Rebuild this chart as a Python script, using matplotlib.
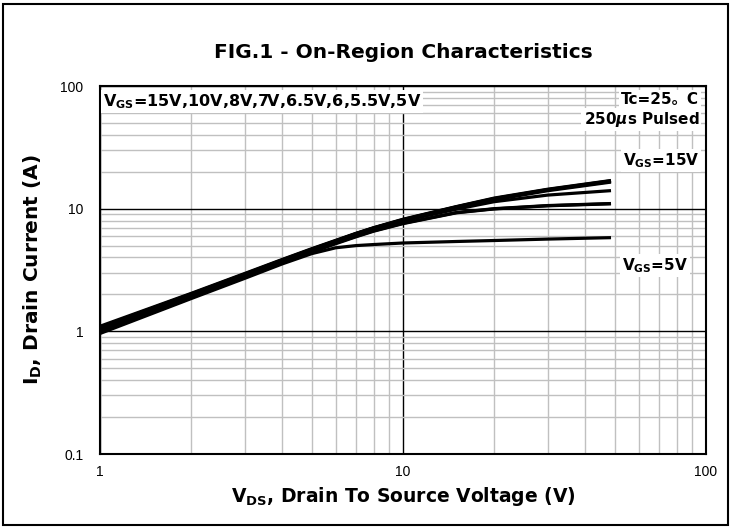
import numpy as np
import matplotlib.pyplot as plt
from matplotlib.ticker import LogLocator, FixedLocator, NullFormatter
from matplotlib.patches import Rectangle

plt.rcParams['font.family'] = ['Liberation Sans', 'DejaVu Sans']
plt.rcParams['mathtext.fontset'] = 'custom'
plt.rcParams['mathtext.rm'] = 'DejaVu Sans'
plt.rcParams['mathtext.bf'] = 'DejaVu Sans:bold'
plt.rcParams['mathtext.it'] = 'DejaVu Sans:italic:bold'

### Data
vds = [1, 2, 3, 4, 5, 6, 7, 8, 10, 15, 20, 30, 48]
id_15v = [1.1, 2.04, 2.96, 3.86, 4.72, 5.52, 6.3, 7.0, 8.2, 10.4, 12.2, 14.4, 16.9]
id_10v = [1.08, 2.02, 2.93, 3.83, 4.68, 5.48, 6.27, 6.97, 8.15, 10.35, 12.1, 14.3, 16.8]
id_8v = [1.06, 2.0, 2.9, 3.8, 4.65, 5.45, 6.25, 6.95, 8.1, 10.3, 12.0, 14.2, 16.6]
id_7v = [1.04, 1.97, 2.88, 3.77, 4.62, 5.42, 6.2, 6.9, 8.05, 10.2, 11.8, 14.0, 16.4]
id_6v5 = [1.02, 1.94, 2.84, 3.72, 4.57, 5.36, 6.12, 6.82, 7.95, 9.9, 11.4, 12.9, 14.0]
id_6v = [1.0, 1.91, 2.8, 3.66, 4.48, 5.25, 5.95, 6.6, 7.6, 9.3, 10.0, 10.6, 11.0]
id_5v5 = [0.98, 1.88, 2.76, 3.62, 4.42, 5.18, 5.9, 6.55, 7.55, 9.25, 9.95, 10.55, 10.95]
id_5v = [0.96, 1.85, 2.7, 3.55, 4.3, 4.8, 5.0, 5.1, 5.25, 5.4, 5.5, 5.65, 5.8]
curves = [id_15v, id_10v, id_8v, id_7v, id_6v5, id_6v, id_5v5, id_5v]

fig = plt.figure(figsize=(7.32, 5.28), dpi=100)
ax = fig.add_axes([100/732, 1-454/528, 606/732, 368/528])

ax.set_xscale('log')
ax.set_yscale('log')
ax.set_xlim(1, 100)
ax.set_ylim(0.1, 100)

# grille : gris pour les mineures, noir pour les décades
ax.xaxis.set_minor_locator(LogLocator(base=10, subs=np.arange(2, 10)))
ax.yaxis.set_minor_locator(LogLocator(base=10, subs=np.arange(2, 10)))
ax.yaxis.set_minor_formatter(NullFormatter())
ax.xaxis.set_minor_formatter(NullFormatter())
ax.grid(which='minor', color='#c0c0c0', lw=1.0)
ax.grid(which='major', color='black', lw=1.0)
ax.set_axisbelow(True)

ax.xaxis.set_major_locator(FixedLocator([1, 10, 100]))
ax.yaxis.set_major_locator(FixedLocator([0.1, 1, 10, 100]))
ax.set_xticklabels(['1', '10', '100'])
ax.set_yticklabels(['0.1', '1', '10', '100'])
ax.tick_params(which='both', length=0, labelsize=10)
ax.tick_params(axis='y', pad=12)
ax.tick_params(axis='x', pad=8)
for s in ax.spines.values():
    s.set_linewidth(1.5)

for c in curves:
    ax.plot(vds, c, color='black', lw=2.3, zorder=3)

box = dict(facecolor='white', edgecolor='none', pad=1.5)
fam = ['DejaVu Sans', 'Noto Sans CJK SC']
ax.text(1.02, 75, r'V$_{\mathbf{GS}}$=15V,10V,8V,7V,6.5V,6,5.5V,5V', fontsize=11.5, family=fam,
        fontweight='bold', va='center', ha='left', bbox=box, zorder=4)
ax.text(95, 78, 'Tc=25。C', fontsize=11, family=fam, fontweight='bold', ha='right', va='center', bbox=box, zorder=4)
ax.text(95, 53, '250$\\mu$s Pulsed', fontsize=11, family=fam, fontweight='bold', ha='right', va='center', bbox=box, zorder=4)
ax.text(95, 24.6, r'V$_{\mathbf{GS}}$=15V', fontsize=11, family=fam, fontweight='bold', ha='right', va='center', bbox=box, zorder=4)
ax.text(87, 3.44, r'V$_{\mathbf{GS}}$=5V', fontsize=11, family=fam, fontweight='bold', ha='right', va='center', bbox=box, zorder=4)

ax.set_title('FIG.1 - On-Region Characteristics', fontsize=14.5, family='DejaVu Sans', fontweight='bold', pad=20)
ax.set_xlabel(r'V$_{\mathbf{DS}}$, Drain To Source Voltage (V)', fontsize=13.5, family='DejaVu Sans',
              fontweight='bold', labelpad=4)
ax.set_ylabel(r'I$_{\mathbf{D}}$, Drain Current (A)', fontsize=14.5, family='DejaVu Sans',
              fontweight='bold', labelpad=12)

fig.patches.append(Rectangle((3/732, 3/528), 725/732, 521/528, transform=fig.transFigure,
                             fill=False, edgecolor='black', lw=1.5))

fig.savefig('out.png', dpi=100)
